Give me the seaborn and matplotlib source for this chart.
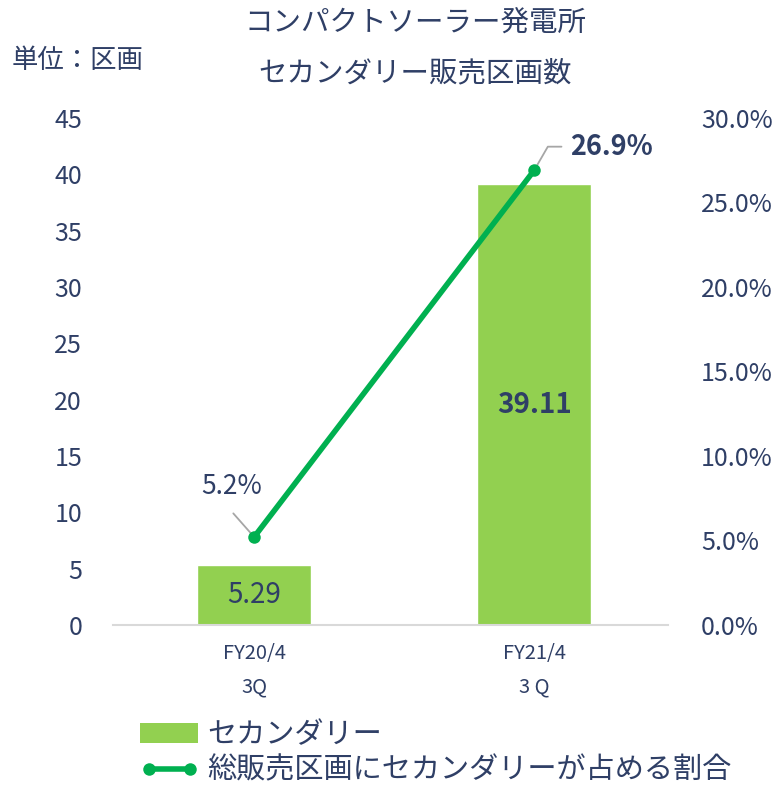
import matplotlib
matplotlib.use("Agg")
import matplotlib.pyplot as plt
import seaborn as sns
import pandas as pd
from matplotlib.lines import Line2D
from matplotlib.patches import Patch

# data
categories = ["FY20/4\n3Q", "FY21/4\n3 Q"]
secondary_units = [5.29, 39.11]
share_pct = [5.2, 26.9]
left_ticks = [0, 5, 10, 15, 20, 25, 30, 35, 40, 45]
right_ticks = [0, 5, 10, 15, 20, 25, 30]

navy = "#2F3F66"
bar_green = "#92D050"
line_green = "#00B050"
leader_gray = "#A6A6A6"

sns.set_theme(style="white")
plt.rcParams["font.family"] = ["Noto Sans CJK JP", "DejaVu Sans"]

df = pd.DataFrame({"cat": categories, "units": secondary_units, "share": share_pct})

fig = plt.figure(figsize=(7.72, 7.86), dpi=100)
ax = fig.add_axes([0.146, 0.205, 0.719, 0.645])

sns.barplot(data=df, x="cat", y="units", color=bar_green, width=0.407,
            saturation=1, ax=ax)
ax.set_xlim(-0.505, 1.477)
ax.set_ylim(0, 45)
ax.set_yticks(left_ticks)
ax.set_xlabel("")
ax.set_ylabel("")
ax.tick_params(axis="y", labelsize=18, labelcolor=navy, length=0, pad=22)
ax.tick_params(axis="x", labelsize=14.5, labelcolor=navy, length=0, pad=13)
for lbl in ax.get_xticklabels():
    lbl.set_linespacing(1.8)
for s in ["left", "right", "top"]:
    ax.spines[s].set_visible(False)
ax.spines["bottom"].set_color("#D9D9D9")
ax.spines["bottom"].set_linewidth(1.5)

# bar value labels
ax.text(0, secondary_units[0] / 2, f"{secondary_units[0]:.2f}", ha="center",
        va="center", fontsize=20, color=navy)
ax.text(1, secondary_units[1] / 2, f"{secondary_units[1]:.2f}", ha="center",
        va="center", fontsize=20, color=navy, fontweight="bold")

ax2 = ax.twinx()
ax2.set_zorder(ax.get_zorder() + 1)
ax2.patch.set_visible(False)

# leader lines drawn first so the markers sit on top
ax2.annotate("", xy=(0, share_pct[0]), xytext=(-15, 17),
             textcoords="offset points",
             arrowprops=dict(arrowstyle="-", color=leader_gray, lw=1.3,
                             shrinkA=0, shrinkB=0))
ax2.annotate(f"{share_pct[0]:.1f}%", xy=(0, share_pct[0]), xytext=(-16.5, 36),
             textcoords="offset points", ha="center", va="center",
             fontsize=19, color=navy)
ax2.annotate(f"{share_pct[1]:.1f}%", xy=(1, share_pct[1]), xytext=(26, 17),
             textcoords="offset points", ha="left", va="center",
             fontsize=19.5, color=navy, fontweight="bold",
             arrowprops=dict(arrowstyle="-", color=leader_gray, lw=1.3,
                             connectionstyle="angle,angleA=0,angleB=60,rad=0",
                             shrinkA=4, shrinkB=0))

sns.lineplot(data=df, x="cat", y="share", color=line_green, linewidth=4,
             marker="o", markersize=9, markeredgewidth=0, ax=ax2, zorder=5)
ax2.set_ylim(0, 30)
ax2.set_yticks(right_ticks)
ax2.set_yticklabels([f"{t:.1f}%" for t in right_ticks])
ax2.set_ylabel("")
ax2.tick_params(axis="y", labelsize=18, labelcolor=navy, length=0, pad=24)
for s in ["left", "right", "top", "bottom"]:
    ax2.spines[s].set_visible(False)

# titles
fig.text(415 / 772, 1 - 23 / 786, "コンパクトソーラー発電所", ha="center",
         va="center", fontsize=20.5, color=navy)
fig.text(415 / 772, 1 - 73 / 786, "セカンダリー販売区画数", ha="center",
         va="center", fontsize=20.5, color=navy)
fig.text(12 / 772, 1 - 60 / 786, "単位：区画", ha="left", va="center",
         fontsize=19, color=navy)

# legend
handles = [
    Patch(facecolor=bar_green, edgecolor="none"),
    Line2D([0], [0], color=line_green, lw=4, marker="o", markersize=9,
           markeredgewidth=0),
]
labels = ["セカンダリー", "総販売区画にセカンダリーが占める割合"]
leg = fig.legend(handles, labels, loc="upper left", ncol=1, frameon=False,
                 fontsize=21, labelcolor=navy, numpoints=2,
                 handlelength=2.0, handleheight=0.7, handletextpad=0.3,
                 labelspacing=0.2, borderaxespad=0, borderpad=0,
                 bbox_to_anchor=(140 / 772, 1 - 720 / 786))

fig.savefig("out.png", dpi=100)
